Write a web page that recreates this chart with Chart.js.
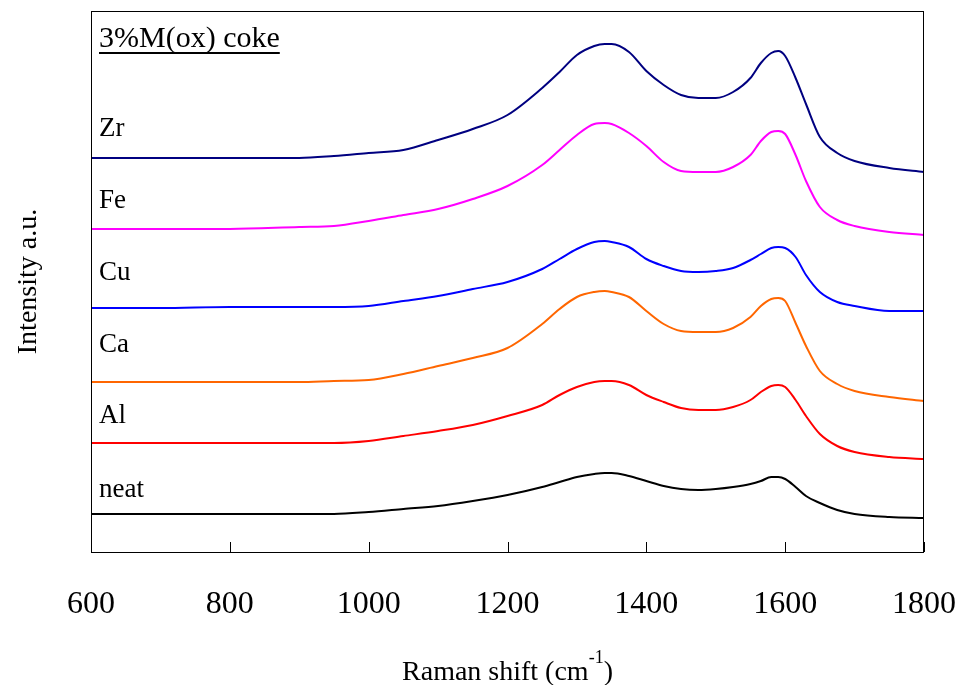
<!DOCTYPE html>
<html>
<head>
<meta charset="utf-8">
<title>Raman spectra of coke</title>
<script src="https://cdn.jsdelivr.net/npm/chart.js@4/dist/chart.umd.min.js"></script>
<style>
  html, body { margin: 0; padding: 0; background: #fff; }
  canvas { display: block; }
</style>
</head>
<body>
<canvas id="ramanChart" width="960" height="685"></canvas>
<script>
// Raman shift (cm-1) sampled along the spectra
const shift = [600, 700, 800, 900, 950, 1000, 1050, 1100, 1150, 1200, 1250, 1275, 1300, 1325, 1340, 1350,
  1375, 1400, 1425, 1450, 1475, 1500, 1525, 1550, 1565, 1580, 1590, 1600, 1615, 1630, 1650, 1675, 1700, 1750, 1800];

// intensities (a.u., spectra offset from one another)
const zr = [394, 394, 394, 394, 396, 399, 402, 412, 423, 437, 464, 480, 497, 506, 508, 508,
  500, 481, 467, 457, 454, 454, 460, 474, 489, 499, 501, 496, 474, 448, 415, 399, 391, 384, 380];
const fe = [323, 323, 323, 325, 326, 331, 337, 343, 353, 366, 387, 402, 417, 428, 429, 428,
  419, 406, 390, 381, 380, 380, 385, 397, 411, 420, 421, 418, 397, 371, 345, 332, 326, 320, 317];
const cu = [244, 244, 245, 245, 245, 246, 251, 256, 263, 270, 283, 293, 303, 310, 311, 310,
  305, 293, 286, 281, 280, 281, 284, 292, 298, 304, 305, 304, 295, 277, 260, 250, 246, 241, 241];
const ca = [170, 170, 170, 170, 171, 172, 178, 186, 194, 204, 228, 243, 255, 260, 261, 260,
  255, 241, 228, 221, 220, 220, 224, 235, 246, 253, 254, 251, 229, 206, 181, 168, 161, 155, 151];
const al = [109, 109, 109, 109, 109, 111, 116, 121, 127, 136, 147, 157, 165, 170, 171, 171,
  167, 157, 150, 144, 142, 142, 145, 152, 160, 166, 167, 165, 152, 136, 118, 106, 100, 95, 93];
const neat = [38, 38, 38, 38, 38, 40, 43, 46, 51, 57, 65, 70, 75, 78, 79, 79,
  76, 71, 66, 63, 62, 63, 65, 68, 71, 75, 75, 73, 65, 56, 49, 42, 38, 35, 34];

const seriesNames = ['Zr', 'Fe', 'Cu', 'Ca', 'Al', 'neat'];
const seriesColors = ['#000080', '#ff00ff', '#0000ff', '#ff6600', '#ff0000', '#000000'];
const seriesData = [zr, fe, cu, ca, al, neat];

const serif = "'Liberation Serif', 'Times New Roman', serif";

const datasets = seriesNames.map((name, i) => ({
  label: name,
  data: shift.map((x, j) => ({ x: x, y: seriesData[i][j] })),
  borderColor: seriesColors[i],
  borderWidth: 2,
  pointRadius: 0,
  cubicInterpolationMode: 'monotone',
  fill: false
}));

// frame, inward ticks, curve labels and axis titles
const decorations = {
  id: 'decorations',
  afterDraw(chart) {
    const { ctx, chartArea: a, scales } = chart;
    const xs = scales.x, ys = scales.y;
    ctx.save();
    ctx.strokeStyle = '#000';
    ctx.lineWidth = 1;
    ctx.strokeRect(a.left + 0.5, a.top + 0.5, a.right - a.left - 1, a.bottom - a.top);

    ctx.beginPath();
    xs.ticks.forEach(t => {
      const px = Math.round(xs.getPixelForValue(t.value)) + 0.5;
      ctx.moveTo(px, a.bottom);
      ctx.lineTo(px, a.bottom - 10);
    });
    ctx.stroke();

    ctx.fillStyle = '#000';
    ctx.textAlign = 'left';
    ctx.textBaseline = 'alphabetic';

    // heading with underline
    ctx.font = '30px ' + serif;
    const head = '3%M(ox) coke';
    ctx.fillText(head, a.left + 8, a.top + 36);
    const hw = ctx.measureText(head).width;
    ctx.fillRect(a.left + 8, a.top + 41, hw, 2);

    // curve labels
    ctx.font = '27px ' + serif;
    const labelVals = [416, 344, 272, 200, 129, 55];
    seriesNames.forEach((n, i) => {
      ctx.fillText(n, a.left + 8, ys.getPixelForValue(labelVals[i]));
    });

    // x axis title with superscript
    const cx = (a.left + a.right) / 2;
    const base = 680;
    ctx.font = '28px ' + serif;
    const p1 = 'Raman shift (cm';
    const w1 = ctx.measureText(p1).width;
    ctx.font = '18px ' + serif;
    const sup = '-1';
    const w2 = ctx.measureText(sup).width;
    ctx.font = '28px ' + serif;
    const w3 = ctx.measureText(')').width;
    let x0 = cx - (w1 + w2 + w3) / 2;
    ctx.fillText(p1, x0, base);
    ctx.font = '18px ' + serif;
    ctx.fillText(sup, x0 + w1, base - 17);
    ctx.font = '28px ' + serif;
    ctx.fillText(')', x0 + w1 + w2, base);

    // y axis title
    ctx.translate(36, (a.top + a.bottom) / 2);
    ctx.rotate(-Math.PI / 2);
    ctx.textAlign = 'center';
    ctx.fillText('Intensity a.u.', 0, 0);
    ctx.restore();
  }
};

const ctx = document.getElementById('ramanChart').getContext('2d');

const chart = new Chart(ctx, {
  type: 'line',
  data: { datasets: datasets },
  options: {
    responsive: false,
    animation: false,
    layout: { padding: { left: 91, right: 36, top: 11, bottom: 0 } },
    plugins: {
      legend: { display: false },
      tooltip: { enabled: false }
    },
    scales: {
      x: {
        type: 'linear',
        min: 600,
        max: 1800,
        // tick marks are drawn inward by the plugin; tickLength only spaces the labels
        grid: { display: false, drawTicks: true, tickLength: 33 },
        border: { display: false },
        ticks: {
          stepSize: 200,
          color: '#000',
          padding: 0,
          maxRotation: 0,
          font: { family: serif, size: 32 },
          callback: v => String(v)
        },
        afterFit(scale) { scale.height = 133; }
      },
      y: {
        display: false,
        min: 0,
        max: 541
      }
    }
  },
  plugins: [decorations]
});
</script>
</body>
</html>
